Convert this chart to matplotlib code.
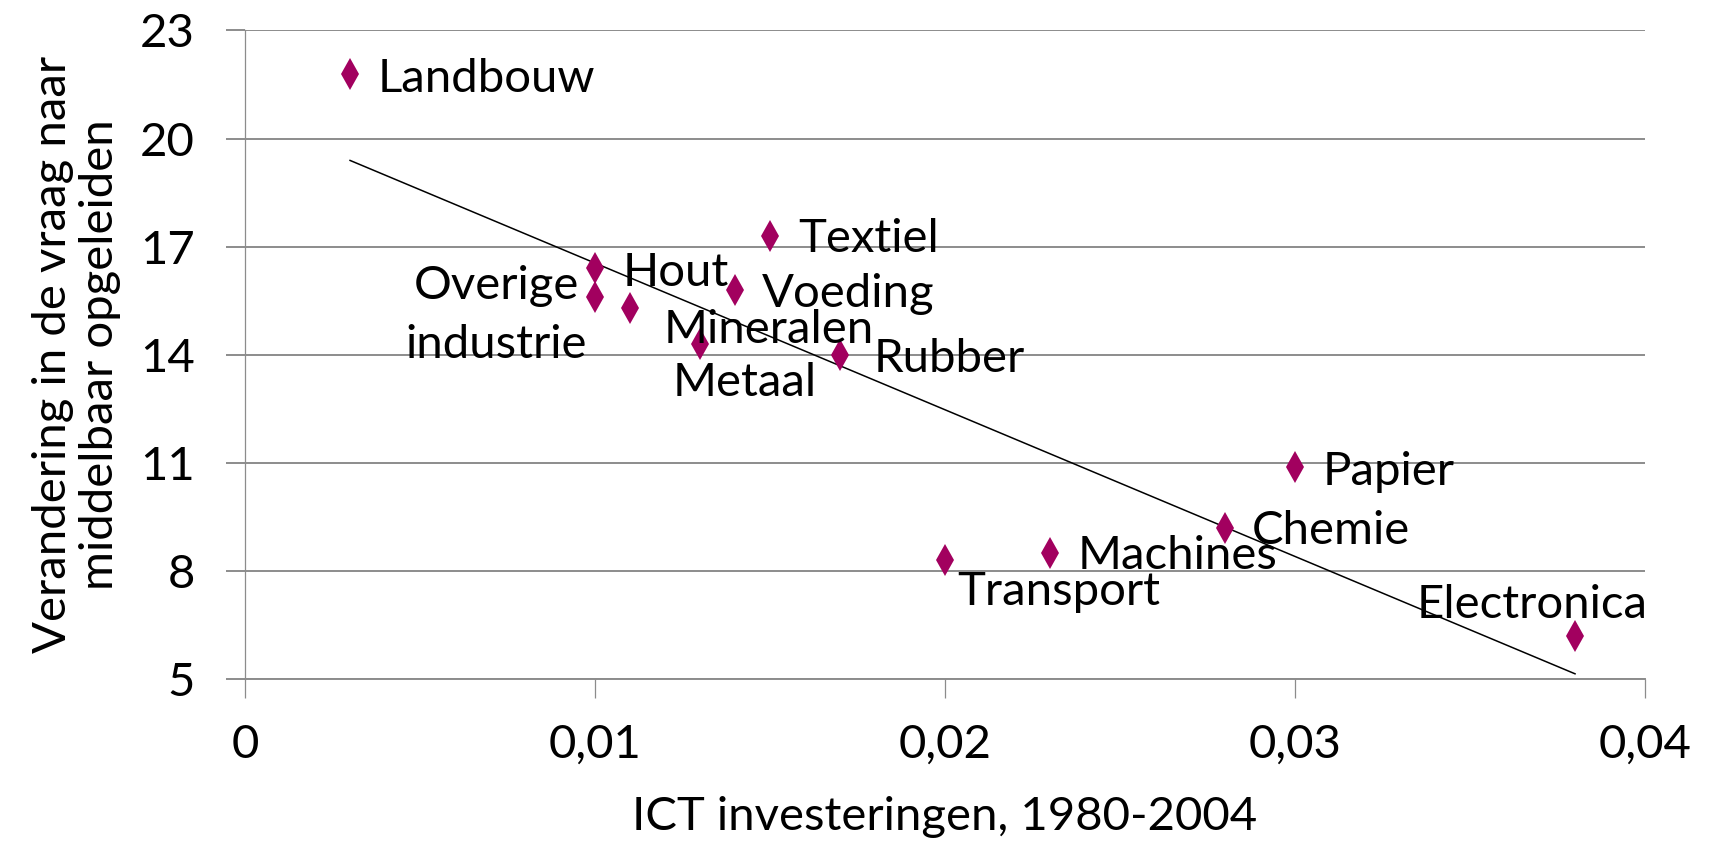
import numpy as np
import matplotlib
matplotlib.use("Agg")
import matplotlib.pyplot as plt

plt.rcParams['font.family'] = ['Lato', 'DejaVu Sans']

# --- data ---
sectoren = ["Landbouw", "Hout", "Overige\nindustrie", "Mineralen", "Metaal",
            "Textiel", "Voeding", "Rubber", "Transport", "Machines",
            "Chemie", "Papier", "Electronica"]
ict = [0.003, 0.010, 0.010, 0.011, 0.013, 0.015, 0.014, 0.017,
       0.020, 0.023, 0.028, 0.030, 0.038]
vraag = [21.8, 16.4, 15.6, 15.3, 14.3, 17.3, 15.8, 14.0,
         8.3, 8.5, 9.2, 10.9, 6.2]

x_ticks = [0, 0.01, 0.02, 0.03, 0.04]
x_ticklabels = ["0", "0,01", "0,02", "0,03", "0,04"]
y_ticks = [5, 8, 11, 14, 17, 20, 23]

# label offsets (points) and alignment, per sector
offsets = [(20, -4), (20, -3), (-71, -13), (24, -16), (-20, -28),
           (20, -2), (19, -3), (24, -3), (9, -23), (20, -2),
           (19, -2), (20, -4), (-31, 22)]
uitlijning = ["left", "left", "center", "left", "left",
              "left", "left", "left", "left", "left",
              "left", "left", "center"]

kleur = "#A2005F"
grijs = "#8C8C8C"
fs = 34

fig = plt.figure(figsize=(17.1, 8.47), dpi=100)
ax = fig.add_axes([0.1433, 0.198, 0.962 - 0.1433, 0.964 - 0.198])

# gridlines
ax.set_axisbelow(True)
ax.yaxis.grid(True, color=grijs, linewidth=1.4)

# trendline (linear fit)
a, b = np.polyfit(ict, vraag, 1)
xs = np.array([min(ict), max(ict)])
ax.plot(xs, a * xs + b, color="black", linewidth=1.1, zorder=2)

ax.plot(ict, vraag, linestyle="none", marker="d", markersize=16,
        color=kleur, markeredgewidth=0, zorder=3)

for naam, x, y, off, ha in zip(sectoren, ict, vraag, offsets, uitlijning):
    ax.annotate(naam, (x, y), xytext=off, textcoords="offset points",
                ha=ha, va="center", fontsize=fs, linespacing=1.5,
                multialignment="center", zorder=4)

ax.set_xlim(0, 0.04)
ax.set_ylim(5, 23)
ax.set_xticks(x_ticks)
ax.set_xticklabels(x_ticklabels)
ax.set_yticks(y_ticks)

for s in ["top", "right"]:
    ax.spines[s].set_visible(False)
ax.spines["left"].set_color(grijs)
ax.spines["left"].set_linewidth(0.9)
ax.spines["bottom"].set_color(grijs)
ax.spines["bottom"].set_linewidth(1.4)

ax.tick_params(axis="y", direction="out", length=14, width=1.4, color=grijs,
               pad=22, labelsize=fs)
ax.tick_params(axis="x", direction="out", length=14, width=0.9, color=grijs,
               pad=18, labelsize=fs)

ax.set_xlabel("ICT investeringen, 1980-2004", fontsize=fs, labelpad=22)
fig.text(0.0445, 0.581, "Verandering in de vraag naar\nmiddelbaar opgeleiden",
         rotation=90, ha="center", va="center", fontsize=fs,
         linespacing=1.15, multialignment="center")

fig.savefig("out.png", dpi=100)
